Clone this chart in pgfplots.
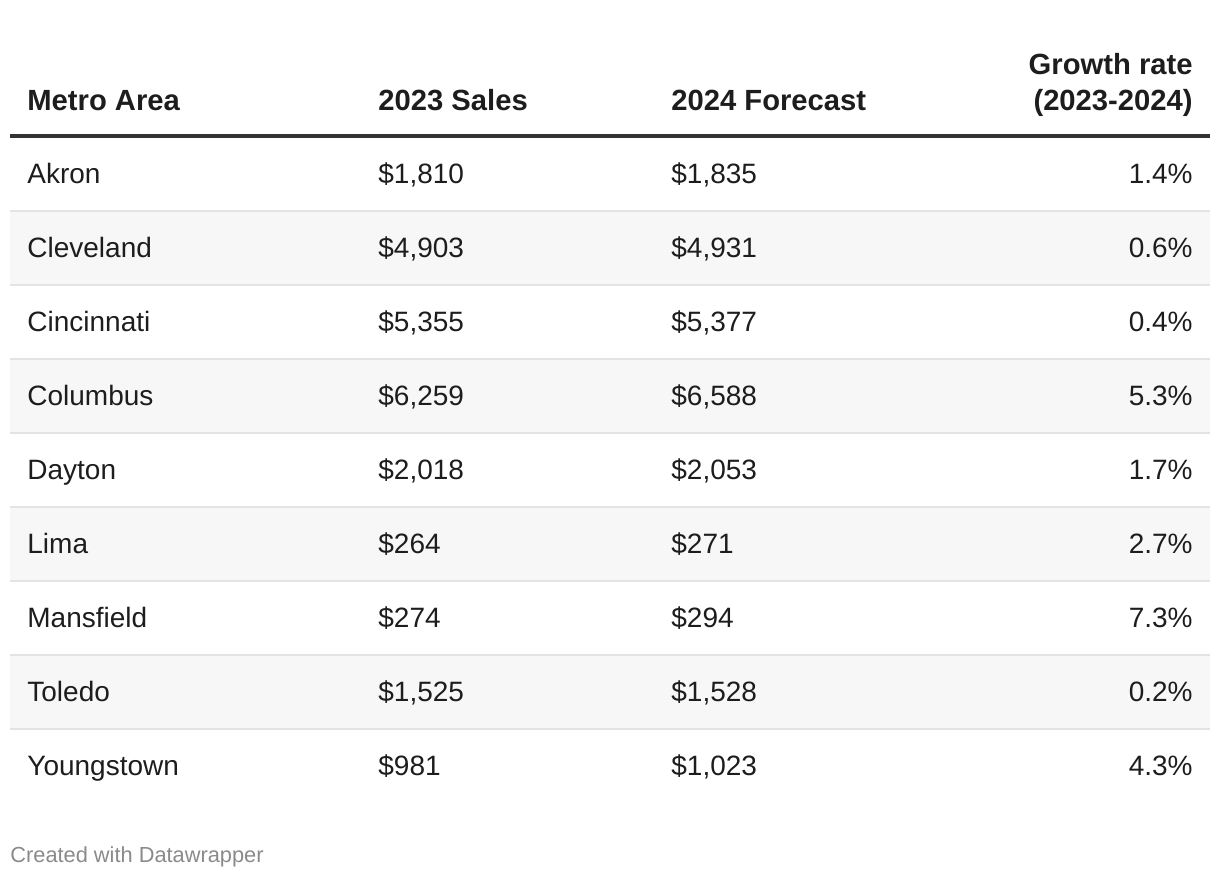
\documentclass[border=0pt]{standalone}
\usepackage{pgfplots}
\pgfplotsset{compat=1.18}
\usepackage{pgfplotstable}
\usepackage{fontspec}
\setmainfont{Liberation Sans}
\definecolor{txt}{HTML}{1D1D1D}
\definecolor{stripe}{HTML}{F7F7F7}
\definecolor{sep}{HTML}{E3E3E3}
\definecolor{rule}{HTML}{333333}
\definecolor{foot}{HTML}{8A8A8A}

\pgfplotstableread{
y name s23 f24 g
183 Akron 1,810 1,835 1.4
257 Cleveland 4,903 4,931 0.6
331 Cincinnati 5,355 5,377 0.4
405 Columbus 6,259 6,588 5.3
479 Dayton 2,018 2,053 1.7
553 Lima 264 271 2.7
627 Mansfield 274 294 7.3
701 Toledo 1,525 1,528 0.2
775 Youngstown 981 1,023 4.3
}\rows

\newcommand{\bodyfont}{\fontsize{14}{16}\selectfont}
\newcommand{\headfont}{\fontsize{14.6}{17}\selectfont\bfseries}

\begin{document}
\begin{tikzpicture}
\begin{axis}[
  name=tab,
  x=0.5pt, y=0.5pt, y dir=reverse,
  xmin=0, xmax=1220, ymin=0, ymax=878,
  enlargelimits=false, hide axis, clip=false,
  cycle list={{mark=none}},
  every axis plot/.append style={line cap=butt, mark=none},
]
% stripes
\addplot[stripe, line width=37pt] coordinates {(10,248) (1210,248)};
\addplot[stripe, line width=37pt] coordinates {(10,396) (1210,396)};
\addplot[stripe, line width=37pt] coordinates {(10,544) (1210,544)};
\addplot[stripe, line width=37pt] coordinates {(10,692) (1210,692)};
% separators
\addplot[sep, line width=0.7pt] coordinates {(10,211) (1210,211)};
\addplot[sep, line width=0.7pt] coordinates {(10,285) (1210,285)};
\addplot[sep, line width=0.7pt] coordinates {(10,359) (1210,359)};
\addplot[sep, line width=0.7pt] coordinates {(10,433) (1210,433)};
\addplot[sep, line width=0.7pt] coordinates {(10,507) (1210,507)};
\addplot[sep, line width=0.7pt] coordinates {(10,581) (1210,581)};
\addplot[sep, line width=0.7pt] coordinates {(10,655) (1210,655)};
\addplot[sep, line width=0.7pt] coordinates {(10,729) (1210,729)};
% header rule
\addplot[rule, line width=1.8pt] coordinates {(10,136) (1210,136)};
% headers
\node[anchor=base west, inner sep=0pt, text=txt, font=\headfont] at (axis cs:27,110) {Metro Area};
\node[anchor=base west, inner sep=0pt, text=txt, font=\headfont] at (axis cs:378,110) {2023 Sales};
\node[anchor=base west, inner sep=0pt, text=txt, font=\headfont] at (axis cs:671,110) {2024 Forecast};
\node[anchor=base east, inner sep=0pt, text=txt, font=\headfont] at (axis cs:1193,74) {Growth rate};
\node[anchor=base east, inner sep=0pt, text=txt, font=\headfont] at (axis cs:1193,110) {(2023-2024)};
% body
\addplot[draw=none, point meta=explicit symbolic, nodes near coords={\pgfplotspointmeta},
  every node near coord/.append style={anchor=base west, inner sep=0pt, text=txt, font=\bodyfont}]
  table[x expr=27, y=y, meta=name] {\rows};
\addplot[draw=none, point meta=explicit symbolic, nodes near coords={\$\pgfplotspointmeta},
  every node near coord/.append style={anchor=base west, inner sep=0pt, text=txt, font=\bodyfont}]
  table[x expr=378, y=y, meta=s23] {\rows};
\addplot[draw=none, point meta=explicit symbolic, nodes near coords={\$\pgfplotspointmeta},
  every node near coord/.append style={anchor=base west, inner sep=0pt, text=txt, font=\bodyfont}]
  table[x expr=671, y=y, meta=f24] {\rows};
\addplot[draw=none, point meta=explicit symbolic, nodes near coords={\pgfplotspointmeta\%},
  every node near coord/.append style={anchor=base east, inner sep=0pt, text=txt, font=\bodyfont}]
  table[x expr=1193, y=y, meta=g] {\rows};
% footer
\node[anchor=base west, inner sep=0pt, text=foot, font=\fontsize{10.9}{13}\selectfont] at (axis cs:10,862) {Created with Datawrapper};
\end{axis}
\pgfresetboundingbox
\useasboundingbox (tab.south west) rectangle (tab.north east);
\end{tikzpicture}
\end{document}
